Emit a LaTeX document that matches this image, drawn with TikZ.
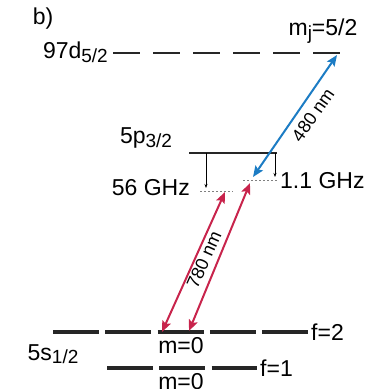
\documentclass[tikz,border=0pt]{standalone}
\usepackage{fontspec}
\setmainfont{Liberation Sans}
\usetikzlibrary{arrows.meta,positioning}
\definecolor{laserred}{RGB}{200,36,76}
\definecolor{laserblue}{RGB}{28,124,196}
\newcommand{\lowidx}[1]{\raisebox{-0.3ex}{\fontsize{19}{19}\selectfont #1}}

\begin{document}
\begin{tikzpicture}[
  x=1pt,y=-1pt,
  font=\fontsize{23}{26}\selectfont,
  lbl/.style={inner sep=1pt},
  rydline/.style={line width=2.6pt,dash pattern=on 27pt off 13pt,black!85},
  pline/.style={line width=2.4pt,black!85},
  gline/.style={line width=3.6pt,dash pattern=on 46pt off 6.25pt,black!85},
  splitarrow/.style={-{Stealth[length=4pt,width=3pt]},line width=0.9pt},
  detuning/.style={gray,line width=0.9pt,dash pattern=on 2pt off 2pt},
  redlaser/.style={{Stealth[length=11pt,width=9pt,inset=2pt]}-{Stealth[length=11pt,width=9pt,inset=2pt]},laserred,line width=2pt},
  bluelaser/.style={{Stealth[length=11pt,width=9pt,inset=2pt]}-{Stealth[length=11pt,width=9pt,inset=2pt]},laserblue,line width=2pt}
]
\useasboundingbox (0,0) rectangle (368,389);

\node[lbl] (panel) at (43,19) {b)};

\coordinate (d-l) at (113,53);
\coordinate (d-r) at (342,53);
\draw[rydline] (d-l) -- (d-r);
\node[lbl,anchor=east] (d-name) at (109,52) {97d\lowidx{5/2}};
\node[lbl] (mj) at (323,31) {m\lowidx{j}=5/2};

\coordinate (p-l) at (189,153);
\coordinate (p-r) at (277,153);
\draw[pline] (p-l) -- (p-r);
\node[lbl] (p-name) at (146,138) {5p\lowidx{3/2}};

\coordinate (p-a) at (206,153);
\coordinate (p-b) at (275,153);
\coordinate (det-a) at (206,188);
\coordinate (det-b) at (275,177);
\draw[splitarrow] (p-a) -- (det-a);
\draw[splitarrow] (p-b) -- (det-b);
\coordinate (da-l) at (200,191);
\coordinate (da-r) at (233,191);
\coordinate (db-l) at (243,180);
\coordinate (db-r) at (277,180);
\draw[detuning] (da-l) -- (da-r);
\draw[detuning] (db-l) -- (db-r);
\node[lbl,anchor=east] (ghz56) at (191,188) {56 GHz};
\node[lbl,anchor=west] (ghz11) at (279,181) {1.1 GHz};

\coordinate (s2-l) at (53,332);
\coordinate (s2-r) at (308,332);
\coordinate (s1-l) at (107,368);
\coordinate (s1-r) at (257,368);
\draw[gline] (s2-l) -- (s2-r);
\draw[gline] (s1-l) -- (s1-r);
\node[lbl] (s-name) at (53,354) {5s\lowidx{1/2}};
\node[lbl,anchor=west] (f2) at (310,332) {f=2};
\node[lbl,anchor=west] (f1) at (259,368) {f=1};
\node[lbl] (m2) at (181,346) {m=0};
\node[lbl] (m1) at (181,382) {m=0};

\coordinate (ra-lo) at (162,332);
\coordinate (ra-hi) at (225,192);
\coordinate (rb-lo) at (189,331);
\coordinate (rb-hi) at (250,183);
\draw[redlaser] (ra-lo) -- (ra-hi);
\draw[redlaser] (rb-lo) -- (rb-hi);
\node[lbl,rotate=66,font=\fontsize{18}{20}\selectfont] (red-nm) at (204,260) {780 nm};

\coordinate (bl-lo) at (253,177);
\coordinate (bl-hi) at (337,55);
\draw[bluelaser] (bl-lo) -- (bl-hi);
\node[lbl,rotate=55,font=\fontsize{18}{20}\selectfont] (blue-nm) at (313,115) {480 nm};
\end{tikzpicture}
\end{document}
